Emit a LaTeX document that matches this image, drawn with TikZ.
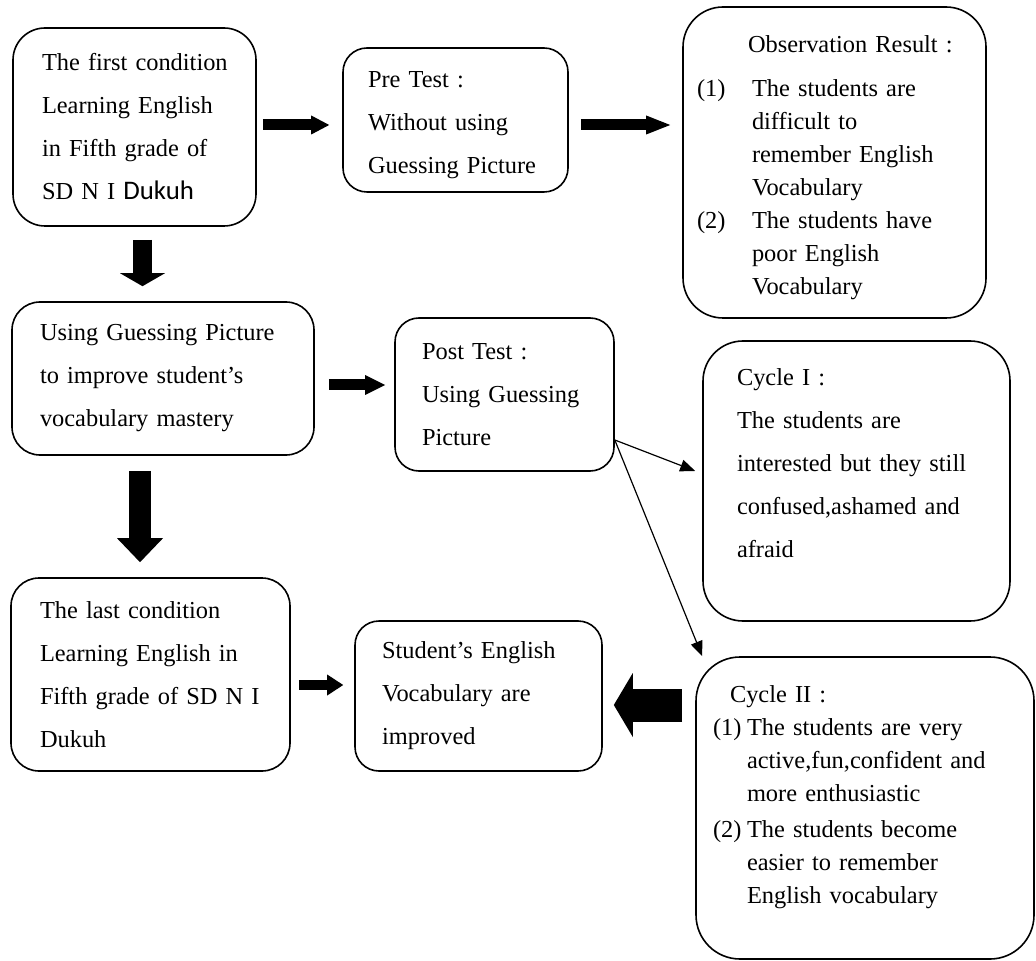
\documentclass[tikz,border=0pt]{standalone}
\usepackage{fontspec}
\setmainfont{Liberation Serif}
\newfontfamily\dukuhfont{Carlito}
\usetikzlibrary{arrows.meta}
\newcommand{\pushin}[1]{\hspace*{#1}}
\newcommand{\itemtag}[2]{\makebox[#1][l]{#2}}
\newcommand{\topgap}[1]{\rule{0pt}{#1}}
\begin{document}
\begin{tikzpicture}[x=0.5pt, y=-0.5pt,
		box/.style={draw, line width=0.8pt, align=left, inner xsep=0pt, inner ysep=0pt},
		pad/.style={execute at begin node={\leftskip=#1\relax}},
		dbl/.style={font=\fontsize{12.2}{21.5}\selectfont},
		sgl/.style={font=\fontsize{12.2}{16.5}\selectfont},
		blk/.style n args={3}{line width=#1, -{Triangle[length=#2, width=#3, line width=0pt]}},
		thinarr/.style={line width=0.6pt, -{Triangle[length=7.5pt, width=6pt]}}]
			\useasboundingbox (0,0) rectangle (1036,961);
			\node (first) at (134.5,127) [box, dbl, pad=14.5pt, rounded corners=16pt, text width=121.5pt, minimum height=99pt] {The first condition\\Learning English\\in Fifth grade of\\SD N I {\dukuhfont\fontsize{13.4}{21.5}\selectfont Dukuh}};
			\node (pre) at (455.5,120) [box, dbl, pad=12.5pt, rounded corners=12pt, text width=112.5pt, minimum height=72pt] {\topgap{12.7pt}Pre Test :\\Without using\\Guessing Picture};
			\node (obs) at (834.5,162.5) [box, sgl, pad=7pt, rounded corners=20pt, text width=151.5pt, minimum height=155.5pt] {\topgap{13.15pt}\pushin{25.5pt}Observation Result :\\[5.5pt]\itemtag{27.5pt}{(1)}The students are\\\pushin{27.5pt}difficult to\\\pushin{27.5pt}remember English\\\pushin{27.5pt}Vocabulary\\\itemtag{27.5pt}{(2)}The students have\\\pushin{27.5pt}poor English\\\pushin{27.5pt}Vocabulary};
			\node (using) at (163,378.5) [box, dbl, pad=14pt, rounded corners=14pt, text width=151pt, minimum height=76.5pt] {Using Guessing Picture\\to improve student's\\vocabulary mastery};
			\node (post) at (504.5,394.5) [box, dbl, pad=13.5pt, rounded corners=12pt, text width=109.5pt, minimum height=76.5pt] {Post Test :\\Using Guessing\\Picture};
			\node (cyc1) at (856.5,481) [box, dbl, pad=17pt, rounded corners=20pt, text width=153.5pt, minimum height=140pt] {Cycle I :\\The students are\\interested but they still\\confused,ashamed and\\afraid\par\kern17.5pt};
			\node (last) at (150.5,674.5) [box, dbl, pad=14.5pt, rounded corners=14pt, text width=139.5pt, minimum height=96.5pt] {The last condition\\Learning English in\\Fifth grade of SD N I\\Dukuh};
			\node (res) at (478.5,696) [box, dbl, pad=13.5pt, rounded corners=12pt, text width=123.5pt, minimum height=75pt] {Student's English\\Vocabulary are\\improved};
			\node (cyc2) at (865,808) [box, sgl, pad=8.5pt, rounded corners=22pt, text width=169pt, minimum height=151pt] {\pushin{8.5pt}Cycle II :\\\itemtag{17pt}{(1)}The students are very\\\pushin{17pt}active,fun,confident and\\\pushin{17pt}more enthusiastic\\[1.5pt]\itemtag{17pt}{(2)}The students become\\\pushin{17pt}easier to remember\\\pushin{17pt}English vocabulary\par\kern11.3pt};
			\draw[blk={5.5pt}{9pt}{9.5pt}, shorten <=3pt, shorten >=6.5pt] ([yshift=1pt]first.east) -- ([yshift=1pt]first.east -| pre.west);
			\draw[blk={5.5pt}{12pt}{9.5pt}, shorten <=6pt, shorten >=6pt] ([yshift=-2.5pt]pre.east) -- ([yshift=-2.5pt]pre.east -| obs.west);
			\draw[blk={9.5pt}{6.5pt}{22.5pt}, shorten <=6.5pt, shorten >=7.5pt] ([xshift=4pt]first.south) -- ([xshift=4pt]first.south |- using.north);
			\draw[blk={5.5pt}{10pt}{10pt}, shorten <=7pt, shorten >=4.5pt] ([yshift=-3.25pt]using.east) -- ([yshift=-3.25pt]using.east -| post.west);
			\draw[blk={11pt}{12pt}{23pt}, shorten <=7.5pt, shorten >=7.5pt] ([xshift=-11.5pt]using.south) -- ([xshift=-11.5pt]using.south |- last.north);
			\draw[blk={5pt}{8pt}{10.5pt}, shorten <=4pt, shorten >=5.5pt] ([yshift=-5.25pt]last.east) -- ([yshift=-5.25pt]last.east -| res.west);
			\draw[blk={16.5pt}{9.5pt}{32pt}, shorten <=6.5pt, shorten >=5.5pt] ([yshift=-4.5pt]res.east -| cyc2.west) -- ([yshift=-4.5pt]res.east);
			\draw[thinarr] ([yshift=-22.75pt]post.east) -- ([shift={(-3.5pt,5pt)}]cyc1.west);
			\draw[thinarr] ([yshift=-22.75pt]post.east) -- ([xshift=3.5pt]cyc2.north west);
	\end{tikzpicture}
\end{document}
